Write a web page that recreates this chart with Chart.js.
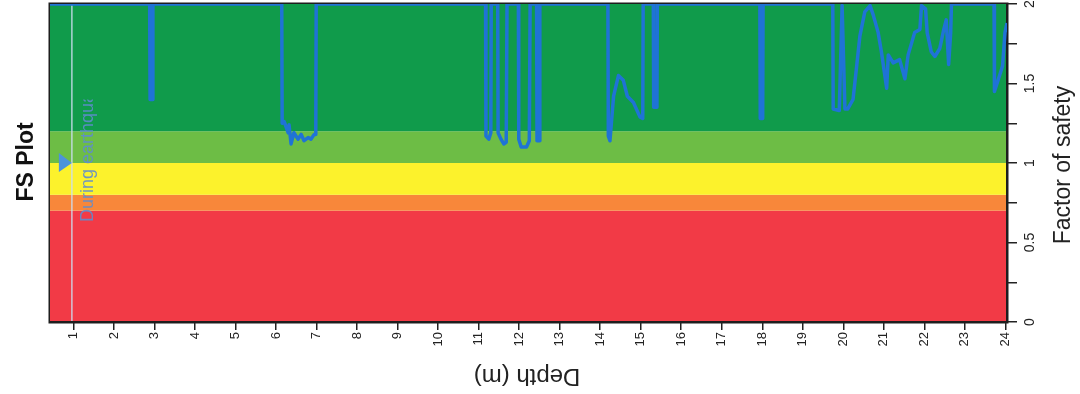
<!DOCTYPE html>
<html>
<head>
<meta charset="utf-8">
<title>FS Plot</title>
<script src="https://cdn.jsdelivr.net/npm/chart.js@4.4.1/dist/chart.umd.min.js"></script>
<style>
  html, body { margin: 0; padding: 0; background: #ffffff; }
  #wrap { position: relative; width: 1080px; height: 394px; }
</style>
</head>
<body>
<div id="wrap"><canvas id="fs"></canvas></div>
<script>
// Factor of safety profile against depth (m); values above 2 are capped at 2
const depth = [
  0.42, 2.88, 2.89, 2.95, 2.96,
  6.14, 6.15, 6.20, 6.30, 6.32, 6.37, 6.44, 6.54, 6.62, 6.69, 6.79, 6.86, 6.94, 6.98, 6.99,
  11.17, 11.18, 11.25, 11.30, 11.31,
  11.47, 11.48, 11.55, 11.62, 11.68, 11.70,
  11.98, 11.99, 12.05, 12.18, 12.25, 12.27,
  12.43, 12.44, 12.50, 12.51,
  14.19, 14.20, 14.24, 14.33, 14.45, 14.57, 14.67, 14.82, 14.98, 15.05, 15.06,
  15.31, 15.32, 15.40, 15.41,
  17.94, 17.95, 18.01, 18.02,
  19.74, 19.75, 19.90, 19.97, 20.04, 20.11, 20.24, 20.33, 20.41, 20.53, 20.66, 20.74, 20.86, 20.94,
  21.07, 21.11, 21.23, 21.39, 21.52, 21.60, 21.76, 21.89, 21.93, 22.03, 22.07, 22.17, 22.26, 22.38,
  22.48, 22.54, 22.60, 22.65, 22.67,
  23.72, 23.73, 23.82, 23.93, 23.99, 24.04
];
const factorOfSafety = [
  2, 2, 1.40, 1.40, 2,
  2, 1.25, 1.26, 1.19, 1.24, 1.12, 1.19, 1.15, 1.18, 1.14, 1.16, 1.15, 1.18, 1.18, 2,
  2, 1.17, 1.15, 1.19, 2,
  2, 1.19, 1.15, 1.12, 1.13, 2,
  2, 1.15, 1.10, 1.10, 1.14, 2,
  2, 1.14, 1.14, 2,
  2, 1.17, 1.14, 1.42, 1.55, 1.52, 1.42, 1.38, 1.29, 1.28, 2,
  2, 1.35, 1.35, 2,
  2, 1.28, 1.28, 2,
  2, 1.34, 1.33, 1.99, 1.34, 1.34, 1.40, 1.61, 1.80, 1.95, 1.99, 1.93, 1.82, 1.70,
  1.47, 1.68, 1.63, 1.65, 1.53, 1.68, 1.82, 1.84, 1.99, 1.97, 1.82, 1.70, 1.67, 1.72,
  1.84, 1.90, 1.62, 1.82, 2,
  2, 1.45, 1.52, 1.61, 1.82, 1.88
];

// Tick values
const depthTicks = [1, 2, 3, 4, 5, 6, 7, 8, 9, 10, 11, 12, 13, 14, 15, 16, 17, 18, 19, 20, 21, 22, 23, 24];
const fsTicks = [0, 0.25, 0.5, 0.75, 1, 1.25, 1.5, 1.75, 2];
const fsTickLabels = ['0', '', '0.5', '', '1', '', '1.5', '', '2'];

// Safety bands (factor of safety ranges)
const bandFrom = [0, 0.7, 0.8, 1.0, 1.2];
const bandTo = [0.7, 0.8, 1.0, 1.2, 2.0];
const bandColors = ['#f23a46', '#f8873a', '#fcf22c', '#6dbd45', '#109b4b'];

// Earthquake marker
const markerDepth = 0.96;
const markerFS = 1.0;
const markerLabel = 'During earthquake';

const xMin = 0.42, xMax = 24.04;

const backdrop = {
  id: 'backdrop',
  beforeDraw(chart) {
    const { ctx, chartArea: a, scales: { x, y } } = chart;
    ctx.save();
    for (let i = 0; i < bandColors.length; i++) {
      const top = y.getPixelForValue(bandTo[i]);
      const bot = y.getPixelForValue(bandFrom[i]);
      ctx.fillStyle = bandColors[i];
      ctx.fillRect(a.left, top, a.right - a.left, bot - top);
    }
    // marker line
    const mx = x.getPixelForValue(markerDepth);
    ctx.strokeStyle = 'rgba(205,222,240,0.85)';
    ctx.lineWidth = 1.5;
    ctx.beginPath();
    ctx.moveTo(mx, a.top);
    ctx.lineTo(mx, a.bottom);
    ctx.stroke();
    // frame
    ctx.strokeStyle = '#1e1e1e';
    ctx.lineWidth = 1.5;
    ctx.strokeRect(a.left - 0.75, a.top - 0.75, a.right - a.left + 1.5, a.bottom - a.top + 1.5);
    ctx.restore();
  },
  afterDatasetsDraw(chart) {
    const { ctx, chartArea: a, scales: { x, y } } = chart;
    const mx = x.getPixelForValue(markerDepth);
    const my = y.getPixelForValue(markerFS);
    ctx.save();
    // marker triangle
    ctx.fillStyle = '#4d93da';
    ctx.beginPath();
    ctx.moveTo(mx - 13, my - 10);
    ctx.lineTo(mx, my);
    ctx.lineTo(mx - 13, my + 9);
    ctx.closePath();
    ctx.fill();
    // marker label, clipped
    const clipTop = y.getPixelForValue(1.4);
    ctx.beginPath();
    ctx.rect(mx, clipTop, 40, a.bottom - clipTop);
    ctx.clip();
    ctx.translate(mx + 21, my + 59);
    ctx.rotate(-Math.PI / 2);
    ctx.fillStyle = 'rgba(95,140,205,0.9)';
    ctx.font = '18px "Liberation Sans", Arial, sans-serif';
    ctx.textAlign = 'left';
    ctx.textBaseline = 'alphabetic';
    ctx.fillText(markerLabel, 0, 0);
    ctx.restore();
  },
  afterDraw(chart) {
    const { ctx } = chart;
    ctx.save();
    ctx.fillStyle = '#111';
    ctx.textBaseline = 'alphabetic';
    ctx.textAlign = 'center';
    // title
    ctx.save();
    ctx.translate(33, 162);
    ctx.rotate(-Math.PI / 2);
    ctx.font = 'bold 23px "Liberation Sans", Arial, sans-serif';
    ctx.fillText('FS Plot', 0, 0);
    ctx.restore();
    // y axis title
    ctx.save();
    ctx.translate(1070, 165);
    ctx.rotate(-Math.PI / 2);
    ctx.font = '23px "Liberation Sans", Arial, sans-serif';
    ctx.fillStyle = '#222';
    ctx.fillText('Factor of safety', 0, 0);
    ctx.restore();
    // x axis title
    ctx.save();
    ctx.translate(527, 369);
    ctx.rotate(Math.PI);
    ctx.font = '24px "Liberation Sans", Arial, sans-serif';
    ctx.fillStyle = '#222';
    ctx.fillText('Depth (m)', 0, 0);
    ctx.restore();
    ctx.restore();
  }
};

new Chart(document.getElementById('fs'), {
  type: 'line',
  data: {
    datasets: [{
      data: depth.map((d, i) => ({ x: d, y: factorOfSafety[i] })),
      borderColor: '#1f73d6',
      borderWidth: 3.5,
      pointRadius: 0,
      tension: 0,
      borderJoinStyle: 'round',
      fill: false
    }]
  },
  options: {
    responsive: true,
    maintainAspectRatio: false,
    animation: false,
    events: [],
    layout: { padding: { left: 50, top: 4, right: 0, bottom: 0 } },
    plugins: { legend: { display: false }, tooltip: { enabled: false }, title: { display: false } },
    scales: {
      x: {
        type: 'linear',
        position: 'bottom',
        min: xMin,
        max: xMax,
        afterBuildTicks: s => { s.ticks = depthTicks.map(v => ({ value: v })); },
        afterFit: s => { s.height = 72; s.paddingLeft = 0; s.paddingRight = 0; },
        grid: { drawOnChartArea: false, drawTicks: true, tickLength: 8, color: '#222', lineWidth: 1.5 },
        border: { display: true, color: '#1e1e1e', width: 1.5 },
        ticks: {
          autoSkip: false,
          minRotation: 90,
          maxRotation: 90,
          padding: 2,
          color: '#222',
          font: { family: '"Liberation Sans", Arial, sans-serif', size: 13 },
          callback: v => String(v)
        }
      },
      y: {
        type: 'linear',
        position: 'right',
        min: 0,
        max: 2,
        afterBuildTicks: s => { s.ticks = fsTicks.map(v => ({ value: v })); },
        afterFit: s => { s.width = 73; s.paddingTop = 0; s.paddingBottom = 0; },
        grid: { drawOnChartArea: false, drawTicks: true, tickLength: 10, color: '#222', lineWidth: 1.5 },
        border: { display: true, color: '#1e1e1e', width: 1.5 },
        ticks: {
          autoSkip: false,
          minRotation: 90,
          maxRotation: 90,
          crossAlign: 'center',
          padding: 3,
          color: '#222',
          font: { family: '"Liberation Sans", Arial, sans-serif', size: 14 },
          callback: v => fsTickLabels[fsTicks.indexOf(v)] ?? ''
        }
      }
    }
  },
  plugins: [backdrop]
});
</script>
</body>
</html>
